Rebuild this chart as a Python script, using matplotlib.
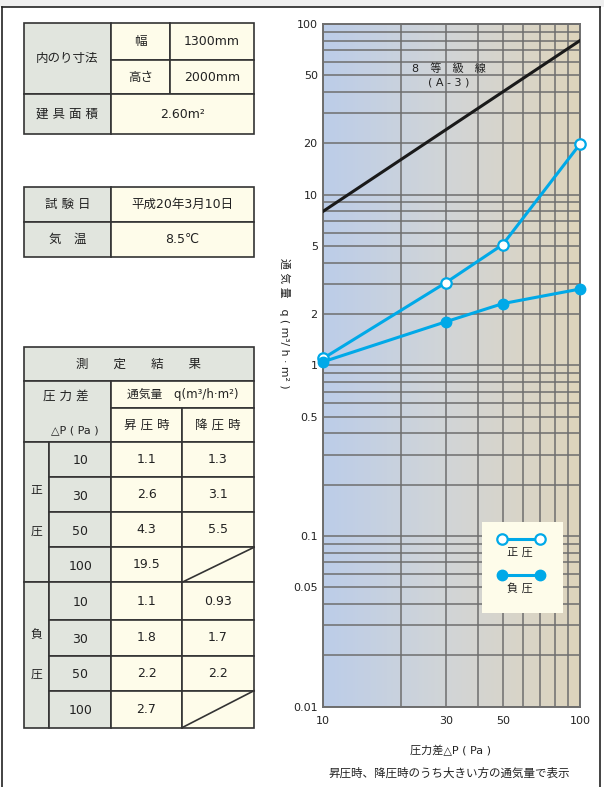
import numpy as np
import matplotlib
matplotlib.use("Agg")
import matplotlib.pyplot as plt
from matplotlib.colors import LinearSegmentedColormap
from matplotlib.patches import Rectangle
from matplotlib.ticker import LogLocator, NullFormatter

plt.rcParams['font.family'] = ['DejaVu Sans', 'Noto Sans CJK JP']

# chart data
pressure = [10, 30, 50, 100]
positive_q = [1.1, 3.05, 5.1, 19.8]
negative_q = [1.05, 1.8, 2.3, 2.8]
grade_p = [10, 100]
grade_q = [8, 80]
y_ticks = [0.01, 0.05, 0.1, 0.5, 1, 2, 5, 10, 20, 50, 100]
y_tick_labels = ["0.01", "0.05", "0.1", "0.5", "1", "2", "5", "10", "20", "50", "100"]
x_ticks = [10, 30, 50, 100]
x_tick_labels = ["10", "30", "50", "100"]

# table data
size_labels = ["幅", "高さ"]
size_values = ["1300mm", "2000mm"]
area_value = "2.60m²"
test_date = "平成20年3月10日"
temperature = "8.5℃"
table_pressure = ["10", "30", "50", "100"]
pos_rise = ["1.1", "2.6", "4.3", "19.5"]
pos_fall = ["1.3", "3.1", "5.5", ""]
neg_rise = ["1.1", "1.8", "2.2", "2.7"]
neg_fall = ["0.93", "1.7", "2.2", ""]

W, H = 604, 787
GRAY = "#e1e5de"
CREAM = "#fefcea"
EDGE = "#333333"
BLUE = "#00a9e8"
TXT = "#222222"

fig = plt.figure(figsize=(W / 100, H / 100), dpi=100)
fig.patch.set_facecolor("white")

# ---- chart ----
ax = fig.add_axes([323.3 / W, 1 - 706.7 / H, 256.7 / W, 682.7 / H])
bg = LinearSegmentedColormap.from_list("bg", ["#bccde9", "#d2d5d6", "#ded4bc"])
ax.imshow(np.linspace(0, 1, 256).reshape(1, -1), cmap=bg, extent=[0, 1, 0, 1],
          transform=ax.transAxes, aspect="auto", zorder=0)
ax.set_xscale("log")
ax.set_yscale("log")
ax.set_xlim(10, 100)
ax.set_ylim(0.01, 100)

ax.set_xticks(x_ticks)
ax.set_xticklabels(x_tick_labels)
ax.set_yticks(y_ticks)
ax.set_yticklabels(y_tick_labels)
ax.xaxis.set_minor_locator(LogLocator(base=10, subs=np.arange(2, 10), numticks=20))
ax.yaxis.set_minor_locator(LogLocator(base=10, subs=np.arange(2, 10), numticks=20))
ax.xaxis.set_minor_formatter(NullFormatter())
ax.yaxis.set_minor_formatter(NullFormatter())
ax.tick_params(which="both", length=0, labelsize=8, colors=TXT)
ax.tick_params(axis="x", pad=7)
ax.tick_params(axis="y", pad=4)
ax.grid(which="both", color="#6e6e6e", lw=1.1, zorder=1)
ax.set_axisbelow(True)
for s in ax.spines.values():
    s.set_color("#6e6e6e")
    s.set_linewidth(1.4)

ax.plot(grade_p, grade_q, color="#1a1a1a", lw=2.2, zorder=3)
ax.plot(pressure, positive_q, "-o", color=BLUE, lw=2.2, ms=7.5, mfc="white",
        mec=BLUE, mew=1.6, zorder=4, clip_on=False)
ax.plot(pressure, negative_q, "-o", color=BLUE, lw=2.2, ms=7.5, mfc=BLUE,
        mec=BLUE, zorder=5, clip_on=False)

ax.text(0.49, 0.934, "8\u3000等\u3000級\u3000線", transform=ax.transAxes,
        ha="center", va="center", fontsize=8, color=TXT)
ax.text(0.49, 0.915, "( A - 3 )", transform=ax.transAxes,
        ha="center", va="center", fontsize=8, color=TXT)

fig.text(285 / W, 1 - 323 / H, "通 気 量\u3000q ( m³/ h · m² )", rotation=-90,
         ha="center", va="center", fontsize=7.8, color=TXT)
fig.text(450 / W, 1 - 751 / H, "圧力差△P ( Pa )", ha="center", va="center",
         fontsize=8, color=TXT)
fig.text(449 / W, 1 - 773 / H, "昇圧時、降圧時のうち大きい方の通気量で表示",
         ha="center", va="center", fontsize=8.3, color=TXT)

# ---- overlay in pixel coordinates ----
ov = fig.add_axes([0, 0, 1, 1])
ov.set_xlim(0, W)
ov.set_ylim(H, 0)
ov.axis("off")

# page frame
ov.add_patch(Rectangle((0, 0), W, 7, facecolor="#eeeeee", edgecolor="none"))
ov.plot([2, 600], [7, 7], color=TXT, lw=1.2)
ov.plot([2, 2], [7, H], color=TXT, lw=1.2)
ov.plot([600, 600], [7, H], color=TXT, lw=1.2)


def cell(x0, y0, x1, y1, color, text=None, size=9, tx=None, ty=None):
    ov.add_patch(Rectangle((x0, y0), x1 - x0, y1 - y0, facecolor=color,
                           edgecolor=EDGE, lw=1.2, zorder=2))
    if text is not None:
        ov.text((x0 + x1) / 2 if tx is None else tx,
                (y0 + y1) / 2 if ty is None else ty, text,
                ha="center", va="center", fontsize=size, color=TXT, zorder=3)


# table 1
cell(24, 23.3, 111, 94.3, GRAY, "内のり寸法")
cell(111, 23.3, 170, 60, CREAM, size_labels[0])
cell(170, 23.3, 254, 60, CREAM, size_values[0])
cell(111, 60, 170, 94.3, CREAM, size_labels[1])
cell(170, 60, 254, 94.3, CREAM, size_values[1])
cell(24, 94.3, 111, 134, GRAY, "建 具 面 積")
cell(111, 94.3, 254, 134, CREAM, area_value)

# table 2
cell(24, 187.3, 111, 221.7, GRAY, "試 験 日")
cell(111, 187.3, 254, 221.7, CREAM, test_date)
cell(24, 221.7, 111, 256.7, GRAY, "気\u3000温")
cell(111, 221.7, 254, 256.7, CREAM, temperature)

# table 3
rows = [441.7, 476.7, 512.3, 547.3, 582.3, 620, 655.7, 690.7, 727.7]
cell(24, 347.3, 254, 381, GRAY, "測\u3000\u3000定\u3000\u3000結\u3000\u3000果")
cell(24, 381, 111, 441.7, GRAY)
ov.text(66, 395.7, "圧 力 差", ha="center", va="center", fontsize=9, color=TXT, zorder=3)
ov.text(75, 430.7, "△P ( Pa )", ha="center", va="center", fontsize=8, color=TXT, zorder=3)
cell(111, 381, 254, 407.7, CREAM, "通気量\u3000q(m³/h·m²)", size=8.5)
cell(111, 407.7, 182, 441.7, CREAM, "昇 圧 時")
cell(182, 407.7, 254, 441.7, CREAM, "降 圧 時")

groups = [("正", "圧", pos_rise, pos_fall), ("負", "圧", neg_rise, neg_fall)]
for g, (c1, c2, rise, fall) in enumerate(groups):
    top, bot = rows[4 * g], rows[4 * g + 4]
    mid = (top + bot) / 2
    cell(24, top, 49.3, bot, GRAY)
    ov.text(36.5, mid - 21, c1, ha="center", va="center", fontsize=8.5, color=TXT, zorder=3)
    ov.text(36.5, mid + 19, c2, ha="center", va="center", fontsize=8.5, color=TXT, zorder=3)
    for i in range(4):
        y0, y1 = rows[4 * g + i], rows[4 * g + i + 1]
        cell(49.3, y0, 111, y1, GRAY, table_pressure[i], ty=(y0 + y1) / 2 + 1.5)
        cell(111, y0, 182, y1, CREAM, rise[i])
        cell(182, y0, 254, y1, CREAM, fall[i] if fall[i] else None)
        if not fall[i]:
            ov.plot([182, 254], [y1, y0], color=EDGE, lw=1.2, zorder=3)

# legend
ov.add_patch(Rectangle((482, 522), 81, 91, facecolor=CREAM, edgecolor="none", zorder=2))
ov.plot([502, 540], [539, 539], "-o", color=BLUE, lw=2.2, ms=7.5, mfc="white",
        mec=BLUE, mew=1.6, zorder=3)
ov.text(520, 553, "正 圧", ha="center", va="center", fontsize=8, color=TXT, zorder=3)
ov.plot([502, 540], [575, 575], "-o", color=BLUE, lw=2.2, ms=7.5, mfc=BLUE,
        mec=BLUE, zorder=3)
ov.text(520, 588, "負 圧", ha="center", va="center", fontsize=8, color=TXT, zorder=3)

fig.savefig("out.png", dpi=100)
